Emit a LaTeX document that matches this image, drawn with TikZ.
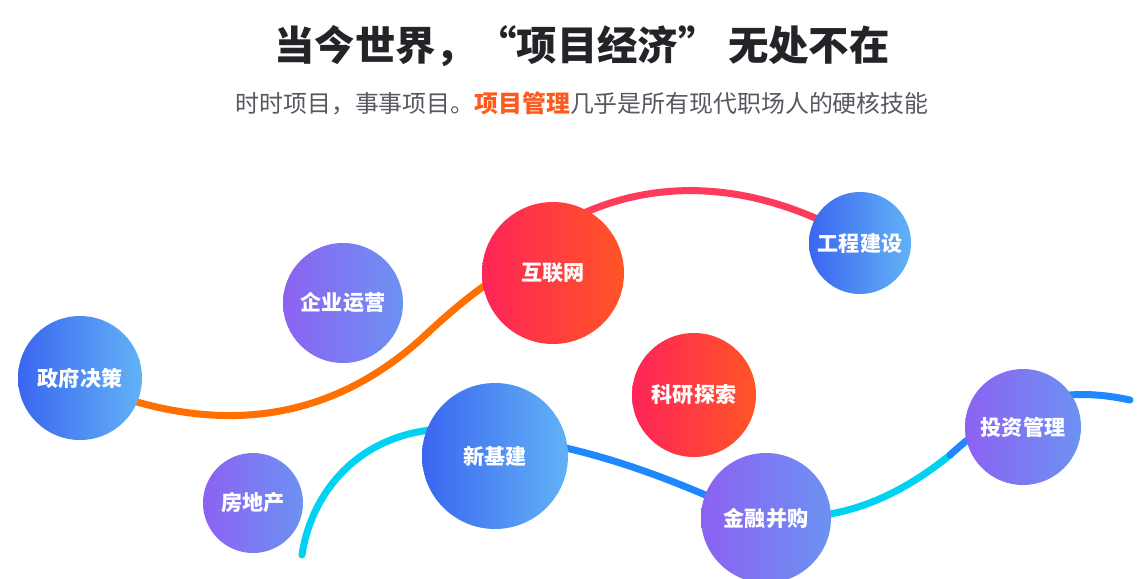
\documentclass[tikz,border=0pt]{standalone}
\usepackage{fontspec}
\setmainfont{Noto Sans CJK SC}
\begin{document}
\begin{tikzpicture}[x=0.02cm,y=-0.02cm]
\useasboundingbox (0,0) rectangle (1142,578);
\definecolor{tdark}{HTML}{222428}
\definecolor{tgray}{HTML}{55585E}
\definecolor{orng}{HTML}{FF5A1E}
\definecolor{bA}{HTML}{3A66F0}\definecolor{bB}{HTML}{62B2F6}
\definecolor{pA}{HTML}{8C62F2}\definecolor{pB}{HTML}{6C92F2}
\definecolor{rA}{HTML}{FF2458}\definecolor{rB}{HTML}{FF5526}
\definecolor{lineO}{HTML}{FF7000}\definecolor{lineR}{HTML}{FF3B5C}
\definecolor{lineB}{HTML}{1E88FF}\definecolor{lineC}{HTML}{00D2F2}
\tikzset{
 bub/.style={circle,minimum size=#1*0.02cm,inner sep=0pt,text=white,font=\fontsize{12}{13}\selectfont\bfseries},
 bluef/.style={left color=bA,right color=bB},
 purf/.style={left color=pA,right color=pB},
 redf/.style={left color=rA,right color=rB},
 crv/.style={line width=4pt,line cap=round}
}
\node[font=\fontsize{23}{26}\selectfont\bfseries,text=tdark] (t) at (582,46) {当今世界，“项目经济” 无处不在};
\node[font=\fontsize{13.6}{15}\selectfont,text=tgray] (s) at (582,103) {时时项目，事事项目。{\bfseries\color{orng}项目管理}几乎是所有现代职场人的硬核技能};
% curves
\draw[crv,lineO] (130,400) .. controls (230,430) and (330,420) .. (420,340) .. controls (450,312) and (470,295) .. (500,275);
\draw[crv,lineR] (560,225) .. controls (640,180) and (740,175) .. (850,235);
\draw[crv,lineC] (302,555) .. controls (310,500) and (350,440) .. (430,430);
\draw[crv,lineB] (430,430) .. controls (560,435) and (650,470) .. (740,510);
\draw[crv,lineC] (740,510) .. controls (800,525) and (870,520) .. (950,455);
\draw[crv,lineB] (950,455) .. controls (1010,400) and (1060,385) .. (1130,400);
% bubbles
\node[bub=124,bluef] (a) at (80,378) {政府决策};
\node[bub=120,purf] (b) at (343,303) {企业运营};
\node[bub=142,redf] (c) at (553,273) {互联网};
\node[bub=102,bluef] (d) at (860,243) {工程建设};
\node[bub=124,redf] (e) at (694,395) {科研探索};
\node[bub=146,bluef] (f) at (495,456) {新基建};
\node[bub=100,purf] (g) at (253,503) {房地产};
\node[bub=130,purf] (h) at (766,518) {金融并购};
\node[bub=116,purf] (i) at (1023,427) {投资管理};
\end{tikzpicture}
\end{document}
